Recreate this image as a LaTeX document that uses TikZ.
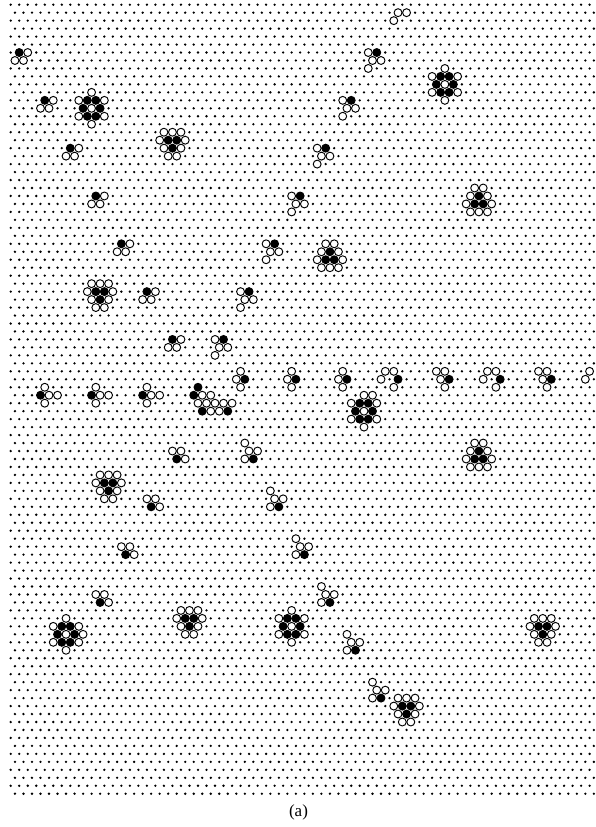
\documentclass[tikz,border=0pt]{standalone}
\usepackage{fontspec}
\setmainfont{Liberation Serif}
\tikzset{
  latticedot/.style={fill=black,draw=none},
  whitesite/.style={fill=white,draw=black,line width=0.95pt},
  blacksite/.style={fill=black,draw=black,line width=0.95pt}
}
\newcommand\xof[1]{(10.7+4.2565*(#1))}
\newcommand\yof[1]{(4.7+7.97*(#1))}
\newcommand\putsites[4]{% style, u, v, offsets
  \foreach \du/\dv in {#4}{
    \path[#1] ({\xof{#2+(\du)}},{\yof{#3+(\dv)}}) circle[radius=3.95];
  }}
\newcommand\wh[3]{\putsites{whitesite}{#1}{#2}{#3}}
\newcommand\bl[3]{\putsites{blacksite}{#1}{#2}{#3}}
% cluster templates: black sites first, open sites on top
\newcommand\clA[2]{\bl{#1}{#2}{0/0}\wh{#1}{#2}{2/0,-1/1,1/1}}
\newcommand\clB[2]{\bl{#1}{#2}{0/0}\wh{#1}{#2}{-2/0,-1/1,1/1,-2/2}}
\newcommand\clC[2]{\bl{#1}{#2}{0/0}\wh{#1}{#2}{2/0,4/0,1/-1,1/1}}
\newcommand\clD[2]{\bl{#1}{#2}{0/0}\wh{#1}{#2}{-1/-1,-2/0,-1/1}}
\newcommand\clE[2]{\bl{#1}{#2}{0/0}\wh{#1}{#2}{-1/-1,1/-1,2/0}}
\newcommand\clF[2]{\bl{#1}{#2}{0/0}\wh{#1}{#2}{-2/-2,-1/-1,1/-1,-2/0}}
\newcommand\clH[2]{\bl{#1}{#2}{-1/-1,1/-1,-2/0,2/0,-1/1,1/1}\wh{#1}{#2}{0/-2,-3/-1,3/-1,0/0,-3/1,3/1,0/2}}
\newcommand\clT[2]{\bl{#1}{#2}{-1/-1,1/-1,0/0}\wh{#1}{#2}{-2/-2,0/-2,2/-2,-3/-1,3/-1,-2/0,2/0,-1/1,1/1}}
\newcommand\clV[2]{\bl{#1}{#2}{0/0,-1/1,1/1}\wh{#1}{#2}{-1/-1,1/-1,-2/0,2/0,-3/1,3/1,-2/2,0/2,2/2}}
\begin{document}
\begin{tikzpicture}[x=1pt,y=-1pt]
\useasboundingbox (0,0) rectangle (595,827);
% lattice
\foreach \r in {0,2,...,98}{
  \foreach \c in {0,...,68}{
    \path[latticedot] ({\xof{2*\c}},{\yof{\r}}) circle[radius=1.3];
    \path[latticedot] ({\xof{2*\c+1}},{\yof{\r+1}}) circle[radius=1.3];
  }}
% type A
\clA{2}{6}\clA{8}{12}\clA{14}{18}\clA{20}{24}\clA{26}{30}\clA{32}{36}\clA{38}{42}
% type B
\clB{86}{6}\clB{80}{12}\clB{74}{18}\clB{68}{24}\clB{62}{30}\clB{56}{36}\clB{50}{42}
\wh{92}{0}{-1/1,1/1,-2/2}
% row 47-49
\clC{7}{49}\clC{19}{49}\clC{31}{49}
\clD{55}{47}\clD{67}{47}\clD{79}{47}
\bl{91}{47}{0/0}\wh{0}{0}{88/46,90/46,87/47,90/48}
\bl{103}{47}{0/0}\wh{0}{0}{100/46,102/46,101/47,102/48}
\bl{115}{47}{0/0}\wh{0}{0}{112/46,114/46,111/47,114/48}
\bl{127}{47}{0/0}\wh{0}{0}{124/46,126/46,125/47,126/48}
\wh{0}{0}{136/46,135/47}
% elongated cluster
\bl{0}{0}{44/48,43/49,45/51,51/51}
\wh{0}{0}{45/49,47/49,44/50,46/50,48/50,50/50,52/50,47/51,49/51}
% type E
\clE{39}{57}\clE{33}{63}\clE{27}{69}\clE{21}{75}
% type F
\clF{57}{57}\clF{63}{63}\clF{69}{69}\clF{75}{75}\clF{81}{81}\clF{87}{87}
% hexagons
\clH{19}{13}\clH{102}{10}\clH{83}{51}\wh{85}{49}{0/0}
\clH{13}{79}\wh{17}{79}{0/0}\clH{66}{78}
% triangles
\clT{38}{18}\clT{21}{37}\clT{23}{61}\clT{125}{79}\clT{93}{89}\clT{42}{78}
\clV{75}{31}\clV{110}{24}\clV{110}{56}
\node[font=\fontsize{17}{19}\selectfont,inner sep=0pt] (caption) at (298.5,812) {(a)};
\end{tikzpicture}
\end{document}
